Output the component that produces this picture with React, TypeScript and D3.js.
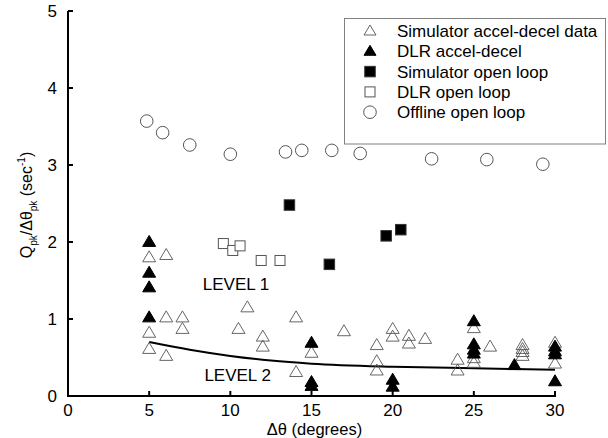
import React from 'react';
import * as d3 from 'd3';

// Offline open loop (open circles)
const offlineOpenLoop: [number, number][] = [
  [4.85, 3.57], [5.83, 3.42], [7.5, 3.26], [10, 3.14], [13.4, 3.17], [14.4, 3.19],
  [16.25, 3.19], [18, 3.15], [22.4, 3.08], [25.8, 3.07], [29.25, 3.01],
];

// DLR open loop (open squares)
const dlrOpenLoop: [number, number][] = [
  [9.57, 1.98], [10.15, 1.89], [10.6, 1.95], [11.9, 1.76], [13.06, 1.76],
];

// Simulator open loop (filled squares)
const simOpenLoop: [number, number][] = [
  [13.64, 2.48], [16.1, 1.71], [19.6, 2.08], [20.5, 2.16],
];

// Simulator accel-decel data (open triangles)
const simAccelDecel: [number, number][] = [
  [5, 1.8], [6.05, 1.83], [6.05, 1.02], [7.05, 1.02], [7.05, 0.87], [5, 0.82], [5, 0.61],
  [6.05, 0.52], [11.05, 1.15], [10.5, 0.87], [12, 0.77], [12, 0.64], [14.05, 1.02],
  [14.05, 0.31], [15, 0.56], [17, 0.84], [19.02, 0.66], [19.02, 0.45], [19.02, 0.33],
  [20, 0.87], [20, 0.77], [21, 0.78], [21, 0.68], [22, 0.74], [24, 0.47], [24, 0.33],
  [25, 0.88], [25, 0.49], [25, 0.43], [26, 0.64], [28, 0.66], [28, 0.61], [28, 0.57],
  [28, 0.52], [30, 0.69], [30, 0.42],
];

// DLR accel-decel (filled triangles)
const dlrAccelDecel: [number, number][] = [
  [5, 2.0], [5, 1.6], [5, 1.41], [5, 1.02], [15, 0.69], [15, 0.18], [15, 0.13],
  [20, 0.21], [20, 0.12], [25, 0.97], [25, 0.67], [25, 0.6], [25, 0.55], [27.5, 0.4],
  [30, 0.64], [30, 0.58], [30, 0.54], [30, 0.19],
];

// boundary curve between levels
const boundary: [number, number][] = [
  [5, 0.7], [7.5, 0.6], [10, 0.52], [12.5, 0.46], [15, 0.42], [20, 0.38], [25, 0.36], [30, 0.34],
];

const levelLabels = [
  { text: 'LEVEL 1', x: 10.35, y: 1.45 },
  { text: 'LEVEL 2', x: 10.45, y: 0.27 },
];

const xTicks = [0, 5, 10, 15, 20, 25, 30];
const yTicks = [0, 1, 2, 3, 4, 5];

const legendItems = [
  { label: 'Simulator accel-decel data', shape: 'tri', filled: false },
  { label: 'DLR accel-decel', shape: 'tri', filled: true },
  { label: 'Simulator open loop', shape: 'sq', filled: true },
  { label: 'DLR open loop', shape: 'sq', filled: false },
  { label: 'Offline open loop', shape: 'circ', filled: false },
];

const FONT = "'Liberation Sans', Arial, sans-serif";
const OPEN = '#555';

function Marker({ shape, filled, x, y, small }: { shape: string; filled: boolean; x: number; y: number; small?: boolean }) {
  const stroke = filled ? '#000' : OPEN;
  if (shape === 'tri') {
    const hw = small ? 6 : 6.5;
    const h = small ? 10 : 11;
    const p = d3.path();
    p.moveTo(x, y - h * 0.6);
    p.lineTo(x + hw, y + h * 0.4);
    p.lineTo(x - hw, y + h * 0.4);
    p.closePath();
    return <path d={p.toString()} fill={filled ? '#000' : 'none'} stroke={stroke} strokeWidth={filled ? 1 : 0.9} />;
  }
  if (shape === 'sq') {
    const s = filled ? 10.5 : 10;
    return <rect x={x - s / 2} y={y - s / 2} width={s} height={s} fill={filled ? '#000' : '#fff'} stroke={filled ? '#333' : OPEN} strokeWidth={1} />;
  }
  return <circle cx={x} cy={y} r={6.3} fill="#fff" stroke={OPEN} strokeWidth={1} />;
}

export default function App() {
  const width = 608;
  const height = 438;
  const x = d3.scaleLinear().domain([0, 30]).range([68, 555]);
  const y = d3.scaleLinear().domain([0, 5]).range([396, 11]);

  const line = d3.line<[number, number]>()
    .x(d => x(d[0]))
    .y(d => y(d[1]))
    .curve(d3.curveMonotoneX);

  return (
    <svg width={width} height={height} style={{ position: 'absolute', left: 0, top: 0, background: '#fff' }}
      fontFamily={FONT}>
      {/* axes */}
      <g stroke="#000" strokeWidth={2} fill="none">
        <line x1={x(0)} x2={x(0)} y1={y(0) + 1} y2={y(5)} />
        <line x1={x(0) - 1} x2={x(30) + 1} y1={y(0)} y2={y(0)} />
        {yTicks.map(t => <line key={'yt' + t} x1={x(0)} x2={x(0) + 5} y1={y(t)} y2={y(t)} />)}
        {xTicks.map(t => <line key={'xt' + t} x1={x(t)} x2={x(t)} y1={y(0)} y2={y(0) - 5} />)}
      </g>
      <g fontSize={17} fill="#000">
        {yTicks.map(t => (
          <text key={'yl' + t} x={57} y={y(t) + 6} textAnchor="end">{t}</text>
        ))}
        {xTicks.map(t => (
          <text key={'xl' + t} x={x(t)} y={416} textAnchor="middle">{t}</text>
        ))}
        <text x={(x(0) + x(30)) / 2 + 3} y={434.5} textAnchor="middle" fontSize={16.5}>Δθ (degrees)</text>
        <text transform={`translate(32, ${205}) rotate(-90)`} textAnchor="middle" fontSize={16}>
          Q<tspan fontSize={10} dy={5}>pk</tspan>
          <tspan dy={-5}>/Δθ</tspan>
          <tspan fontSize={10} dy={5}>pk</tspan>
          <tspan dy={-5}> (sec</tspan>
          <tspan fontSize={10} dy={-7}>-1</tspan>
          <tspan dy={7}>)</tspan>
        </text>
      </g>

      {/* boundary curve */}
      <path d={line(boundary) ?? ''} fill="none" stroke="#000" strokeWidth={2} />

      {/* data markers */}
      {offlineOpenLoop.map((d, i) => <Marker key={'c' + i} shape="circ" filled={false} x={x(d[0])} y={y(d[1])} />)}
      {dlrOpenLoop.map((d, i) => <Marker key={'os' + i} shape="sq" filled={false} x={x(d[0])} y={y(d[1])} />)}
      {simOpenLoop.map((d, i) => <Marker key={'fs' + i} shape="sq" filled x={x(d[0])} y={y(d[1])} />)}
      {simAccelDecel.map((d, i) => <Marker key={'ot' + i} shape="tri" filled={false} x={x(d[0])} y={y(d[1])} />)}
      {dlrAccelDecel.map((d, i) => <Marker key={'ft' + i} shape="tri" filled x={x(d[0])} y={y(d[1])} />)}

      {/* level labels */}
      {levelLabels.map(l => (
        <text key={l.text} x={x(l.x)} y={y(l.y) + 6} textAnchor="middle" fontSize={17}>{l.text}</text>
      ))}

      {/* legend */}
      <g>
        <rect x={344.5} y={18.5} width={261} height={125.5} fill="#fff" stroke="#808080" strokeWidth={1} />
        {legendItems.map((item, i) => {
          const cy = 31 + i * 20.3;
          return (
            <g key={item.label}>
              <Marker shape={item.shape} filled={item.filled} x={370} y={cy} small />
              <text x={397} y={cy + 6} fontSize={17}>{item.label}</text>
            </g>
          );
        })}
      </g>
    </svg>
  );
}
